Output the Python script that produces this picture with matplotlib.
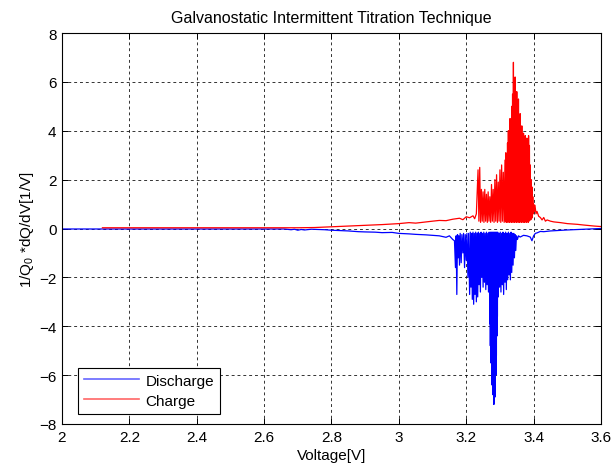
import matplotlib.pyplot as plt

graphe_color = 'black'

# discharge curve (blue)
discharge_v = [2.00, 2.40, 2.66, 2.68, 2.69, 2.70, 2.71, 2.72, 2.74, 2.78, 2.80, 2.83, 2.85, 2.88,
               2.90, 2.93, 2.95, 2.98, 3.00, 3.03, 3.05, 3.08, 3.10, 3.12, 3.14, 3.15, 3.16, 3.165,
               3.168, 3.170, 3.172, 3.174, 3.176, 3.178, 3.180, 3.182, 3.185, 3.187, 3.190, 3.192,
               3.195, 3.197, 3.200, 3.202, 3.205, 3.207, 3.210, 3.212, 3.214, 3.216, 3.218, 3.220,
               3.222, 3.224, 3.226, 3.228, 3.230, 3.232, 3.234, 3.236, 3.238, 3.240, 3.242, 3.244,
               3.246, 3.248, 3.250, 3.252, 3.254, 3.256, 3.258, 3.260, 3.262, 3.264, 3.266, 3.268,
               3.2700, 3.2708, 3.2715, 3.2723, 3.2730, 3.2738, 3.2745, 3.2753, 3.2760, 3.2768,
               3.2775, 3.2783, 3.2790, 3.2798, 3.2805, 3.2813, 3.2820, 3.2828, 3.2835, 3.2843,
               3.2850, 3.2858, 3.2865, 3.2873, 3.2880, 3.2888, 3.2895, 3.2903, 3.2910, 3.2918,
               3.2925, 3.2933,
               3.295, 3.297, 3.299, 3.301, 3.303, 3.305, 3.307, 3.309, 3.311, 3.313, 3.315, 3.317,
               3.319, 3.321, 3.323, 3.325, 3.327, 3.329, 3.331, 3.333, 3.335, 3.337, 3.339, 3.341,
               3.343, 3.345, 3.347, 3.349,
               3.352, 3.355, 3.360, 3.370, 3.380, 3.390, 3.395, 3.400, 3.405, 3.410, 3.420, 3.430,
               3.450, 3.500, 3.550, 3.600]
discharge_q = [-0.02, -0.02, -0.02, -0.05, -0.03, -0.07, -0.04, -0.06, -0.03, -0.05, -0.07, -0.09, -0.10, -0.13,
               -0.14, -0.15, -0.17, -0.16, -0.20, -0.22, -0.24, -0.26, -0.28, -0.30, -0.36, -0.30, -0.45, -0.50,
               -1.6, -0.3, -2.7, -0.25, -1.2, -0.3, -1.5, -0.2,
               -1.4, -0.25, -1.0, -0.2, -1.6, -0.25, -1.3, -0.2,
               -2.0, -0.2, -2.7, -0.15, -2.4, -0.2, -2.9, -0.15,
               -3.1, -0.2, -2.7, -0.15, -3.0, -0.2, -2.8, -0.15,
               -2.3, -0.2, -2.6, -0.15, -2.0, -0.2, -2.4, -0.15,
               -2.2, -0.2, -2.5, -0.15, -2.3, -0.2, -2.6, -0.15,
               -3.9, -0.2, -4.8, -0.15, -5.5, -0.2, -5.0, -0.15, -6.4, -0.2,
               -5.8, -0.15, -6.8, -0.2, -6.2, -0.15, -7.2, -0.2, -6.6, -0.15,
               -6.9, -0.2, -5.8, -0.15, -6.0, -0.2, -5.2, -0.15, -4.4, -0.2,
               -3.6, -0.15,
               -2.8, -0.2, -2.4, -0.15, -2.6, -0.2, -2.3, -0.15, -2.7, -0.2, -2.2, -0.15,
               -2.5, -0.2, -2.1, -0.15, -1.9, -0.2, -2.1, -0.15, -1.8, -0.2, -1.5, -0.2,
               -1.2, -0.25, -0.9, -0.3,
               -0.45, -0.30, -0.35, -0.28, -0.30, -0.35, -0.50, -0.30, -0.20, -0.18, -0.12, -0.13,
               -0.10, -0.06, -0.03, 0.0]

# charge curve (red)
charge_v = [2.12, 2.30, 2.50, 2.70, 2.75, 2.80, 2.85, 2.90, 2.95, 3.00, 3.03, 3.05, 3.08, 3.10,
            3.12, 3.14, 3.16, 3.18, 3.19, 3.20, 3.21, 3.22, 3.225, 3.23,
            3.235, 3.2375, 3.240, 3.2425, 3.245, 3.2475, 3.250, 3.2525, 3.255, 3.2575,
            3.260, 3.2625, 3.265, 3.2675, 3.270, 3.2725, 3.275, 3.2775, 3.280, 3.2825,
            3.285, 3.2875, 3.290, 3.2925, 3.295, 3.2975, 3.300, 3.3025, 3.305, 3.3075,
            3.310, 3.3125,
            3.3150, 3.3163, 3.3175, 3.3188, 3.3200, 3.3213, 3.3225, 3.3238, 3.3250, 3.3263,
            3.3275, 3.3288, 3.3300, 3.3313, 3.3325, 3.3338, 3.3350, 3.3363, 3.3375, 3.3388,
            3.3400, 3.3413, 3.3425, 3.3438, 3.3450, 3.3463, 3.3475, 3.3488, 3.3500, 3.3513,
            3.3525, 3.3538, 3.3550, 3.3563, 3.3575, 3.3588, 3.3600, 3.3613, 3.3625, 3.3638,
            3.3650, 3.3663, 3.3675, 3.3688, 3.3700, 3.3713, 3.3725, 3.3738, 3.3750, 3.3763,
            3.3775, 3.3788, 3.3800, 3.3813, 3.3825, 3.3838, 3.3850, 3.3863, 3.3875, 3.3888,
            3.3900, 3.3913, 3.3925, 3.3938, 3.3950, 3.3963, 3.3975, 3.3988,
            3.400, 3.402, 3.404, 3.407, 3.410, 3.415, 3.420, 3.425, 3.430, 3.435, 3.440, 3.450,
            3.460, 3.480, 3.500, 3.530, 3.550, 3.580, 3.600]
charge_q = [0.03, 0.03, 0.03, 0.03, 0.04, 0.07, 0.10, 0.13, 0.16, 0.20, 0.24, 0.22, 0.27, 0.30,
            0.33, 0.32, 0.38, 0.42, 0.36, 0.48, 0.44, 0.52, 0.40, 0.60,
            2.4, 0.3, 2.5, 0.25, 1.6, 0.3, 1.5, 0.25, 1.6, 0.3,
            1.4, 0.25, 1.5, 0.3, 1.3, 0.25, 1.8, 0.3, 1.6, 0.25,
            2.0, 0.3, 2.2, 0.25, 1.9, 0.3, 2.4, 0.25, 2.6, 0.3,
            2.3, 0.25,
            2.8, 0.3, 3.1, 0.25, 2.7, 0.3, 3.5, 0.25, 4.0, 0.3,
            3.6, 0.25, 4.5, 0.3, 4.2, 0.25, 5.0, 0.3, 5.5, 0.25,
            6.8, 0.3, 5.2, 0.25, 6.2, 0.3, 5.0, 0.25, 5.6, 0.3,
            4.6, 0.25, 5.3, 0.3, 4.4, 0.25, 4.7, 0.3, 4.0, 0.25,
            4.2, 0.3, 3.7, 0.25, 3.9, 0.3, 3.6, 0.25, 3.8, 0.3,
            3.3, 0.25, 3.7, 0.3, 3.5, 0.25, 3.8, 0.3, 3.4, 0.35,
            2.6, 0.35, 2.0, 0.4, 1.7, 0.45, 1.3, 0.6,
            1.0, 0.7, 0.95, 0.6, 0.7, 0.5, 0.45, 0.35, 0.45, 0.30, 0.35, 0.30,
            0.27, 0.24, 0.20, 0.17, 0.14, 0.10, 0.08]

x_ticks = [2, 2.2, 2.4, 2.6, 2.8, 3, 3.2, 3.4, 3.6]
x_tick_labels = ['2', '2.2', '2.4', '2.6', '2.8', '3', '3.2', '3.4', '3.6']
y_ticks = [-8, -6, -4, -2, 0, 2, 4, 6, 8]

plt.rcParams['font.family'] = ['Liberation Sans', 'DejaVu Sans']
plt.rcParams['mathtext.default'] = 'regular'

fig = plt.figure(figsize=(6.11, 4.64), dpi=100)
ax = fig.add_axes([62/611, 39/464, 539/611, 391/464])

ax.plot(discharge_v, discharge_q, color='blue', linewidth=0.9, label='Discharge')
ax.plot(charge_v, charge_q, color='red', linewidth=0.9, label='Charge')

ax.set_xlim(2, 3.6)
ax.set_ylim(-8, 8)
ax.set_xticks(x_ticks)
ax.set_xticklabels(x_tick_labels)
ax.set_yticks(y_ticks)
ax.grid(True, color=graphe_color, linestyle=(0, (3, 3)), linewidth=0.7, alpha=0.8)
ax.set_axisbelow(True)

ax.tick_params(direction='in', top=True, right=True, length=4, width=0.7,
               labelsize=11, colors=graphe_color, pad=4)
for side in ['top', 'bottom', 'left', 'right']:
    ax.spines[side].set_color(graphe_color)
    ax.spines[side].set_linewidth(0.8)

ax.set_title('Galvanostatic Intermittent Titration Technique', fontsize=11.5, pad=8)
ax.set_xlabel('Voltage[V]', fontsize=11, labelpad=3)
ax.set_ylabel('1/Q$_0$ *dQ/dV[1/V]', fontsize=11, labelpad=2)

leg = ax.legend(loc='lower left', bbox_to_anchor=(0.03, 0.026), borderaxespad=0,
                fancybox=False, edgecolor=graphe_color, framealpha=1, fontsize=11,
                handlelength=3.6, handletextpad=0.4, borderpad=0.4, labelspacing=0.4)
leg.get_frame().set_linewidth(0.8)
for line in leg.get_lines():
    line.set_linewidth(1.2)
    line.set_alpha(0.6)

fig.savefig('out.png', dpi=100)
